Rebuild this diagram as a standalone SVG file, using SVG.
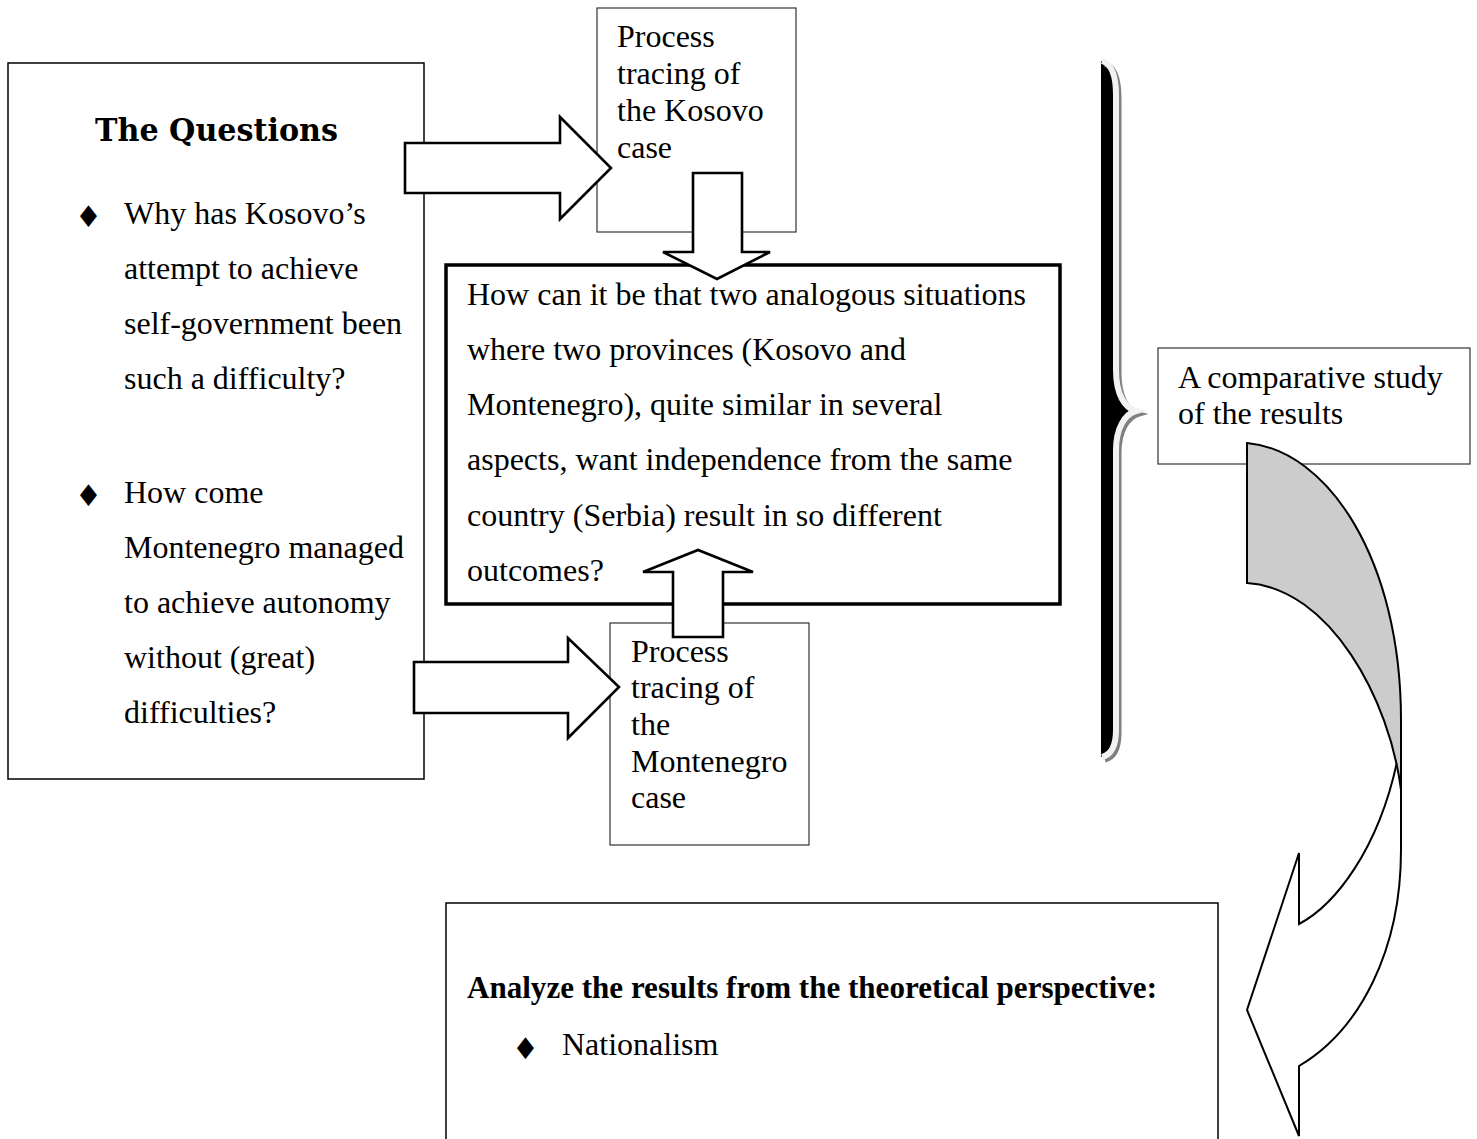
<svg xmlns="http://www.w3.org/2000/svg" width="1477" height="1139" viewBox="0 0 1477 1139">
<style>
.t{font-family:"Liberation Serif","Times New Roman",serif;font-size:32px;fill:#000}
.b{font-weight:bold}
.bul{font-family:"DejaVu Sans",sans-serif;font-size:30px;fill:#000;text-anchor:middle}
.box{fill:#fff;stroke:#000;stroke-width:1.5}
.thin{fill:#fff;stroke:#333;stroke-width:1.2}
.arr{fill:#fff;stroke:#000;stroke-width:2.6;stroke-linejoin:miter}
</style>
<rect width="1477" height="1139" fill="#fff"/>

<g id="questions">
<rect class="box" x="8" y="63" width="416" height="716"/>
<text x="95" y="141" font-family="'DejaVu Serif',serif" font-weight="bold" font-size="32" textLength="243" lengthAdjust="spacingAndGlyphs">The Questions</text>
<text class="bul" x="88.5" y="227">♦</text>
<text class="t" x="124" y="224">Why has Kosovo’s</text>
<text class="t" x="124" y="279">attempt to achieve</text>
<text class="t" x="124" y="334">self-government been</text>
<text class="t" x="124" y="389">such a difficulty?</text>
<text class="bul" x="88.5" y="506">♦</text>
<text class="t" x="124" y="503">How come</text>
<text class="t" x="124" y="558">Montenegro managed</text>
<text class="t" x="124" y="613">to achieve autonomy</text>
<text class="t" x="124" y="668">without (great)</text>
<text class="t" x="124" y="723">difficulties?</text>
</g>

<g id="kosovo">
<rect class="thin" x="597" y="8" width="199" height="224"/>
<text class="t" x="617" y="47">Process</text>
<text class="t" x="617" y="84">tracing of</text>
<text class="t" x="617" y="121">the Kosovo</text>
<text class="t" x="617" y="158">case</text>
</g>

<g id="central">
<rect x="446" y="265" width="614" height="339" fill="#fff" stroke="#000" stroke-width="3.5"/>
<text class="t" x="467" y="305">How can it be that two analogous situations</text>
<text class="t" x="467" y="360">where two provinces (Kosovo and</text>
<text class="t" x="467" y="415">Montenegro), quite similar in several</text>
<text class="t" x="467" y="470">aspects, want independence from the same</text>
<text class="t" x="467" y="526">country (Serbia) result in so different</text>
<text class="t" x="467" y="581">outcomes?</text>
</g>

<g id="montenegro">
<rect class="thin" x="610" y="623" width="199" height="222"/>
<text class="t" x="631" y="662">Process</text>
<text class="t" x="631" y="698">tracing of</text>
<text class="t" x="631" y="735">the</text>
<text class="t" x="631" y="772">Montenegro</text>
<text class="t" x="631" y="808">case</text>
</g>

<g id="comparative">
<rect class="thin" x="1158" y="348" width="312" height="116"/>
<text class="t" x="1178" y="388">A comparative study</text>
<text class="t" x="1178" y="424">of the results</text>
</g>

<g id="analyze">
<rect class="box" x="446" y="903" width="772" height="240"/>
<text class="t b" x="467" y="998" textLength="690" lengthAdjust="spacingAndGlyphs">Analyze the results from the theoretical perspective:</text>
<text class="bul" x="525.5" y="1059">♦</text>
<text class="t" x="562" y="1055">Nationalism</text>
</g>

<g id="brace">
<path d="M1101,61 C1112,64 1116,75 1116,95 L1116,370 C1116,395 1125,408 1136,411 C1125,414 1116,428 1116,450 L1116,730 C1116,748 1110,755 1101,757 Z" fill="#000"/>
<path d="M1102,61 C1112,64 1116,75 1116,95 L1116,370 C1116,395 1125,408 1136,411 C1125,414 1116,428 1116,450 L1116,730 C1116,748 1110,755 1102,757" fill="none" stroke="#808080" stroke-width="5" transform="translate(3,3)"/>
<path d="M1102,61 C1112,64 1116,75 1116,95 L1116,370 C1116,395 1125,408 1136,411 C1125,414 1116,428 1116,450 L1116,730 C1116,748 1110,755 1102,757" fill="none" stroke="#f2f2f2" stroke-width="6"/>
</g>

<g id="connectors">
<polygon class="arr" points="405,143 560,143 560,117 611,168 560,219 560,193 405,193"/>
<polygon class="arr" points="693,173 742,173 742,252 770,252 717,279 663,252 693,252"/>
<polygon class="arr" points="414,662 568,662 568,638 619,687 568,738 568,713 414,713"/>
<polygon class="arr" points="673,637 673,572 643,572 698,550 753,572 723,572 723,637"/>
<path d="M1401,720 L1401,850 C1401,950 1360,1030 1299,1066 L1299,1136 L1247,1010 L1299,853 L1299,924 C1335,905 1378,850 1397,762 Z" fill="#fff" stroke="#000" stroke-width="2"/>
<path d="M1247,443 C1328,450 1401,560 1401,720 L1401,790 C1390,700 1330,588 1247,583 Z" fill="#cccccc" stroke="#000" stroke-width="2"/>
</g>
</svg>
